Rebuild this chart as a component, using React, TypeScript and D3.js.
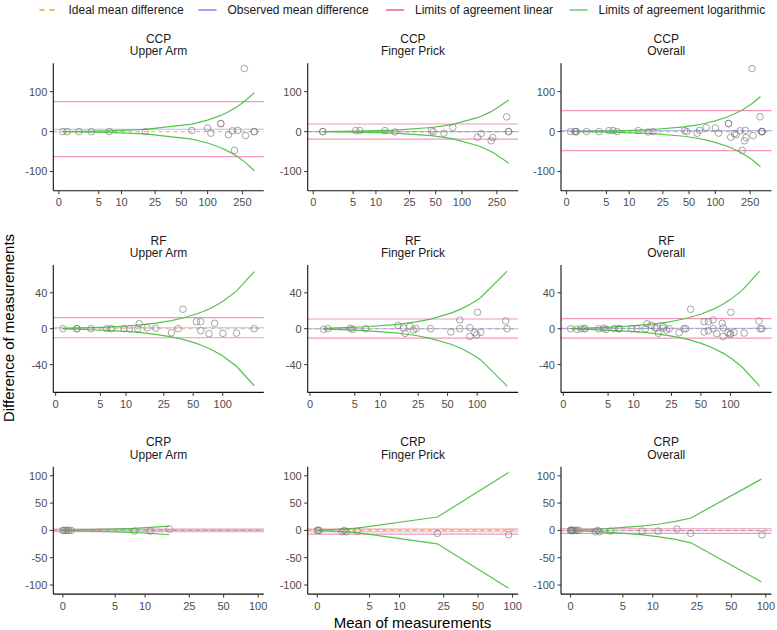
import React from "react";
import * as d3 from "d3";

// ---------- categories & ticks ----------
const assays = ["CCP", "RF", "CRP"];
const sites = ["Upper Arm", "Finger Prick", "Overall"];
const xTicksByAssay = [
  [0, 5, 10, 25, 50, 100, 250],
  [0, 5, 10, 25, 50, 100],
  [0, 5, 10, 25, 50, 100],
];
const yTicksByAssay = [
  [-100, 0, 100],
  [-40, 0, 40],
  [-100, -50, 0, 50, 100],
];
const yDomainByAssay = [
  [-148, 171],
  [-71, 71],
  [-116.6, 116.6],
];
const legendLabels = [
  "Ideal mean difference",
  "Observed mean difference",
  "Limits of agreement linear",
  "Limits of agreement logarithmic",
];

// ---------- points (mean, difference) ----------
const ccpUpperArmMean = [0.42, 0.87, 2.2, 3.85, 7, 19.2, 66, 100, 109, 141.6, 141.6, 173, 192, 203, 220, 263, 271, 341, 341];
const ccpUpperArmDiff = [0, 0, 0, 0, 0, 0, 3, 9, -4, 20, 20, -8, 2, -47, 3, 158, -10, 0, 0];
const ccpFingerMean = [1.01, 1.01, 5.44, 6.2, 12.9, 16.9, 44.5, 46.9, 62, 78.5, 150, 165.6, 215, 224, 324, 341, 341];
const ccpFingerDiff = [0, 0, 2.5, 2.5, 2.5, -1, 2.5, 0, -4, 10, -14, -5, -23, -15, 37, 0, 0];

const rfUpperArmMean = [0.68, 2.08, 2.08, 3.7, 6.0, 6.8, 9.5, 10.9, 13.4, 13.9, 16.8, 20.6, 30, 35, 39.3, 53.9, 59.6, 59.6, 72.4, 82.5, 100.3, 137.8, 209];
const rfUpperArmDiff = [0, 0, 0, 0, 0, 0, 0, 0, 0, 5.6, 1, 0.7, -4.5, 0, 21.7, 7.8, 7.8, -2.2, -5.6, 6, -5.2, -4.9, 0];
const rfFingerMean = [1.28, 1.73, 4.35, 4.7, 6.8, 15.4, 17.6, 18.3, 20.5, 22.2, 23.7, 33.5, 54, 66.5, 66.5, 84.3, 84.3, 94.6, 99.2, 100.9, 108.7, 195, 201];
const rfFingerDiff = [-0.7, 0, 0.4, -0.7, 0, 3.7, 0.7, -5.2, 2.6, -1.5, 0, 0, -3.7, 9.7, 0, 1.1, -8.6, -4.5, -6.7, 18.3, -4.1, 8.6, 0];

const crpUpperArmMean = [0, 0.08, 0.21, 0.35, 0.48, 0.67, 7.9, 11.2, 16.6];
const crpUpperArmDiff = [0, 0, 0, 0, 0, 0, -1.2, -1.2, 2.5];
const crpFingerMean = [0, 0.08, 0.16, 2.07, 2.28, 2.45, 3.53, 22, 92.4];
const crpFingerDiff = [0, 0, 0, -2.5, 0, -2.5, -1.2, -5.5, -8];

// ---------- horizontal reference values per site (Upper Arm, Finger Prick, Overall) ----------
const ccpObserved = [5.8, 0, 2.5];
const ccpLinearUpper = [75, 19, 52.5];
const ccpLinearLower = [-62.5, -19, -47.5];
const rfObserved = [1.1, 0, 0.4];
const rfLinearUpper = [12.3, 10.8, 11.2];
const rfLinearLower = [-10.1, -10.5, -10.5];
const crpObserved = [0.3, -2.5, -0.6];
const crpLinearUpper = [2.5, 2.5, 3];
const crpLinearLower = [-2.5, -6.7, -5.5];

// ---------- logarithmic limits (mean, upper limit); lower limit mirrors ----------
const ccpUpperArmLogMean = [0.42, 2.2, 7, 19.2, 66, 100, 141.6, 173, 203, 220, 263, 341];
const ccpUpperArmLogLimit = [0.1, 0.6, 2.0, 5.5, 18.9, 28.6, 40.5, 49.5, 58.1, 62.9, 75.2, 97.5];
const ccpFingerLogMean = [1.01, 5.44, 12.9, 16.9, 44.5, 62, 78.5, 150, 165.6, 215, 224, 324, 341];
const ccpFingerLogLimit = [0.2, 1.3, 3.0, 3.9, 10.3, 14.4, 18.2, 34.8, 38.4, 49.9, 52.0, 75.2, 79.1];
const ccpOverallLogMean = [0.52, 1.0, 3.93, 7.0, 16.4, 19.3, 43.7, 60.2, 75.4, 97.6, 139, 159.6, 190, 214, 254, 263, 312, 328];
const ccpOverallLogLimit = [0.14, 0.27, 1.05, 1.9, 4.4, 5.2, 11.7, 16.1, 20.2, 26.2, 37.3, 42.8, 50.9, 57.4, 68.1, 70.5, 83.6, 87.9];

const rfUpperArmLogMean = [0.68, 2.08, 6.0, 10.9, 13.9, 20.6, 30, 39.3, 53.9, 59.6, 72.4, 82.5, 100.3, 137.8, 209];
const rfUpperArmLogLimit = [0.2, 0.6, 1.8, 3.3, 4.2, 6.3, 9.1, 11.9, 16.4, 18.1, 22.0, 25.1, 30.5, 41.9, 63.6];
const rfFingerLogMean = [1.28, 4.35, 6.8, 15.4, 18.3, 23.7, 33.5, 54, 66.5, 84.3, 100.9, 108.7, 195, 201];
const rfFingerLogLimit = [0.4, 1.4, 2.2, 4.9, 5.9, 7.6, 10.7, 17.3, 21.3, 27.0, 32.3, 34.8, 62.4, 64.3];
const rfOverallLogMean = [0.74, 2.2, 4.6, 8.5, 12.8, 16.3, 21.9, 28.8, 38.4, 51.3, 66.1, 83.8, 100.7, 130.6, 193, 197.5];
const rfOverallLogLimit = [0.24, 0.7, 1.5, 2.8, 4.2, 5.3, 7.1, 9.4, 12.5, 16.7, 21.5, 27.2, 32.7, 42.4, 62.7, 64.2];

const crpUpperArmLogMean = [0, 7.9, 11.2, 16.6];
const crpUpperArmLogLimit = [0, 3.8, 5.4, 8.0];
const crpFingerLogMean = [0, 2.07, 3.53, 22, 92.4];
const crpFingerLogLimit = [0, 2.3, 4.0, 24.5, 106];
const crpOverallLogMean = [0, 2.1, 3.56, 7.7, 11.1, 16.1, 22.1, 91.3];
const crpOverallLogLimit = [0, 2.1, 3.6, 7.9, 11.3, 16.5, 22.7, 93.9];

// ---------- assemble ----------
type Panel = {
  mean: number[];
  diff: number[];
  observed: number;
  upper: number;
  lower: number;
  logMean: number[];
  logLimit: number[];
};

function rowPanels(
  uaM: number[], uaD: number[], fpM: number[], fpD: number[],
  obs: number[], up: number[], lo: number[],
  logs: [number[], number[]][]
): Panel[] {
  const means = [uaM, fpM, uaM.concat(fpM)];
  const diffs = [uaD, fpD, uaD.concat(fpD)];
  return [0, 1, 2].map((i) => ({
    mean: means[i],
    diff: diffs[i],
    observed: obs[i],
    upper: up[i],
    lower: lo[i],
    logMean: logs[i][0],
    logLimit: logs[i][1],
  }));
}

const rows: Panel[][] = [
  rowPanels(ccpUpperArmMean, ccpUpperArmDiff, ccpFingerMean, ccpFingerDiff, ccpObserved, ccpLinearUpper, ccpLinearLower,
    [[ccpUpperArmLogMean, ccpUpperArmLogLimit], [ccpFingerLogMean, ccpFingerLogLimit], [ccpOverallLogMean, ccpOverallLogLimit]]),
  rowPanels(rfUpperArmMean, rfUpperArmDiff, rfFingerMean, rfFingerDiff, rfObserved, rfLinearUpper, rfLinearLower,
    [[rfUpperArmLogMean, rfUpperArmLogLimit], [rfFingerLogMean, rfFingerLogLimit], [rfOverallLogMean, rfOverallLogLimit]]),
  rowPanels(crpUpperArmMean, crpUpperArmDiff, crpFingerMean, crpFingerDiff, crpObserved, crpLinearUpper, crpLinearLower,
    [[crpUpperArmLogMean, crpUpperArmLogLimit], [crpFingerLogMean, crpFingerLogLimit], [crpOverallLogMean, crpOverallLogLimit]]),
];

// ---------- layout / style ----------
const W = 777;
const H = 630;
const colLeft = [53.3, 307.7, 561];
const panelW = 210.5;
const rowTop = [63.3, 265, 466.7];
const panelH = 127.4;
const FONT = "'Liberation Sans', Arial, Helvetica, sans-serif";

const C_IDEAL = "#F59A2C";
const C_OBS = "#6677EE";
const C_LIN = "#EE3F7C";
const C_LOG = "#55C24C";
const C_PT = "#7A7A7A";

const pseudoLog = (x: number) => Math.asinh(x / 4);

function PanelView({ panel, row, col, xDomT }: { panel: Panel; row: number; col: number; xDomT: [number, number] }) {
  const left = colLeft[col];
  const top = rowTop[row];
  const tx = d3.scaleLinear().domain(xDomT).range([left, left + panelW]);
  const x = (v: number) => tx(pseudoLog(v));
  const y = d3.scaleLinear().domain(yDomainByAssay[row]).range([top + panelH, top]);
  const bottom = top + panelH;

  const line = d3.line<[number, number]>().x((d) => x(d[0])).y((d) => y(d[1]));
  const upperPts = panel.logMean.map((m, i) => [m, panel.logLimit[i]] as [number, number]);
  const lowerPts = panel.logMean.map((m, i) => [m, -panel.logLimit[i]] as [number, number]);

  return (
    <g>
      <text x={left + panelW / 2} y={top - 20.5} textAnchor="middle" fontSize={12} fill="#1a1a1a">{assays[row]}</text>
      <text x={left + panelW / 2} y={top - 8} textAnchor="middle" fontSize={12} fill="#1a1a1a">{sites[col]}</text>

      <line x1={left} x2={left + panelW} y1={y(0)} y2={y(0)} stroke={C_IDEAL} strokeOpacity={0.7} strokeWidth={1.1} strokeDasharray="4,3.5" />
      <line x1={left} x2={left + panelW} y1={y(panel.observed)} y2={y(panel.observed)} stroke={C_OBS} strokeOpacity={0.5} strokeWidth={1.1} />
      <line x1={left} x2={left + panelW} y1={y(panel.upper)} y2={y(panel.upper)} stroke={C_LIN} strokeOpacity={0.55} strokeWidth={1.2} />
      <line x1={left} x2={left + panelW} y1={y(panel.lower)} y2={y(panel.lower)} stroke={C_LIN} strokeOpacity={0.55} strokeWidth={1.2} />
      <path d={line(upperPts) || ""} fill="none" stroke={C_LOG} strokeWidth={1.2} />
      <path d={line(lowerPts) || ""} fill="none" stroke={C_LOG} strokeWidth={1.2} />

      {panel.mean.map((m, i) => (
        <circle key={i} cx={x(m)} cy={y(panel.diff[i])} r={3.3} fill="none" stroke={C_PT} strokeOpacity={0.75} strokeWidth={0.9} />
      ))}

      {/* axes */}
      <line x1={left} x2={left} y1={top} y2={bottom} stroke="#111" strokeWidth={1.1} />
      <line x1={left} x2={left + panelW} y1={bottom} y2={bottom} stroke="#111" strokeWidth={1.1} />
      {yTicksByAssay[row].map((v) => (
        <g key={"y" + v}>
          <line x1={left - 3.5} x2={left} y1={y(v)} y2={y(v)} stroke="#333" strokeWidth={1} />
          <text x={left - 6} y={y(v)} dy="0.36em" textAnchor="end" fontSize={11} fill="#4D4D4D">{v}</text>
        </g>
      ))}
      {xTicksByAssay[row].map((v) => (
        <g key={"x" + v}>
          <line x1={x(v)} x2={x(v)} y1={bottom} y2={bottom + 3.5} stroke="#333" strokeWidth={1} />
          <text x={x(v)} y={bottom + 15.6} textAnchor="middle" fontSize={11} fill="#4D4D4D">{v}</text>
        </g>
      ))}
    </g>
  );
}

export default function App() {
  const legendTextX = [68.5, 227.5, 415, 598.5];
  return (
    <svg width={W} height={H} style={{ position: "absolute", left: 0, top: 0, background: "#fff" }} fontFamily={FONT}>
      <rect width={W} height={H} fill="#fff" />
      {/* legend */}
      {legendLabels.map((lab, i) => {
        const tx = legendTextX[i];
        const colors = [C_IDEAL, C_OBS, C_LIN, C_LOG];
        return (
          <g key={lab}>
            <line x1={tx - 29} x2={tx - 11} y1={10} y2={10} stroke={colors[i]} strokeWidth={1.3}
              strokeDasharray={i === 0 ? "5,5" : undefined} />
            <text x={tx} y={14.2} fontSize={12} fill="#1a1a1a">{lab}</text>
          </g>
        );
      })}

      {rows.map((panels, r) => {
        const allT = panels.flatMap((p) => p.mean.map(pseudoLog));
        const [t0, t1] = d3.extent(allT) as [number, number];
        const pad = (t1 - t0) * 0.05;
        const dom: [number, number] = [t0 - pad, t1 + pad];
        return panels.map((p, c) => <PanelView key={r + "-" + c} panel={p} row={r} col={c} xDomT={dom} />);
      })}

      <text x={412.5} y={627.5} textAnchor="middle" fontSize={15} fill="#000">Mean of measurements</text>
      <text transform="translate(13.5,328) rotate(-90)" textAnchor="middle" fontSize={15} fill="#000">Difference of measurements</text>
    </svg>
  );
}
